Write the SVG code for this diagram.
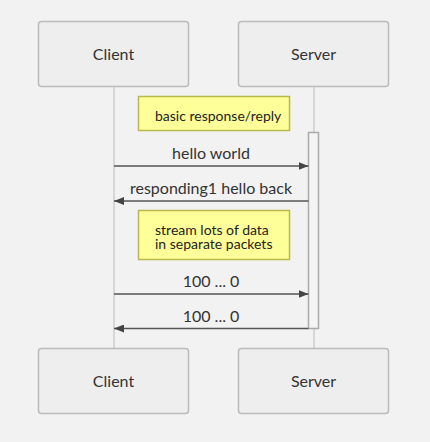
<svg xmlns="http://www.w3.org/2000/svg" width="430" height="442" viewBox="0 0 430 442">
<defs>
<style>
.actor rect{fill:#eeeeee;stroke:#bbbbbb;stroke-width:1.5}
.actor text{font-family:Lato,"Liberation Sans",sans-serif;font-size:16px;fill:#333333;text-anchor:middle}
.life{stroke:#cccccc;stroke-width:1.5;fill:none}
.note rect{fill:#ffff99;stroke:#b8b84d;stroke-width:1.5}
.note text{font-family:Lato,"Liberation Sans",sans-serif;font-size:14px;fill:#222222}
.msg{stroke:#555555;stroke-width:1.5;fill:none;marker-end:url(#ah)}
.lbl{font-family:Lato,"Liberation Sans",sans-serif;font-size:16px;fill:#333333;text-anchor:middle}
</style>
<marker id="ah" viewBox="0 0 10 8" refX="10" refY="4" markerWidth="10" markerHeight="8" markerUnits="userSpaceOnUse" orient="auto">
<path d="M0,0 L10,4 L0,8 z" fill="#444444"/>
</marker>
</defs>
<rect x="0" y="0" width="430" height="442" fill="#f2f2f2"/>
<g id="lifelines">
<line class="life" x1="114" y1="87" x2="114" y2="348"/>
<line class="life" x1="314" y1="87" x2="314" y2="348"/>
</g>
<g id="client-top" class="actor"><rect x="38.5" y="21.5" width="150" height="65" rx="3"/><text x="113.5" y="59.5">Client</text></g>
<g id="server-top" class="actor"><rect x="238.5" y="21.5" width="150" height="65" rx="3"/><text x="313.5" y="59.5">Server</text></g>
<g id="client-bottom" class="actor"><rect x="38.5" y="348.5" width="150" height="65" rx="3"/><text x="113.5" y="386.5">Client</text></g>
<g id="server-bottom" class="actor"><rect x="238.5" y="348.5" width="150" height="65" rx="3"/><text x="313.5" y="386.5">Server</text></g>
<g id="activation"><rect x="308.5" y="132.5" width="10" height="196" fill="#f4f4f4" stroke="#aaaaaa" stroke-width="1.5"/></g>
<g id="note1" class="note"><rect x="138.5" y="96.5" width="151" height="34"/><text x="155" y="121">basic response/reply</text></g>
<g id="note2" class="note"><rect x="138.5" y="210.5" width="151" height="49"/><text x="155" y="235">stream lots of data</text><text x="155" y="249">in separate packets</text></g>
<g id="connectors">
<line class="msg" x1="114" y1="166" x2="308.5" y2="166"/>
<text class="lbl" x="211" y="159">hello world</text>
<line class="msg" x1="308.5" y1="201" x2="114" y2="201"/>
<text class="lbl" x="211" y="194">responding1 hello back</text>
<line class="msg" x1="114" y1="294" x2="308.5" y2="294"/>
<text class="lbl" x="211" y="287">100 ... 0</text>
<line class="msg" x1="308.5" y1="328.5" x2="114" y2="328.5"/>
<text class="lbl" x="211" y="321.5">100 ... 0</text>
</g>
</svg>
